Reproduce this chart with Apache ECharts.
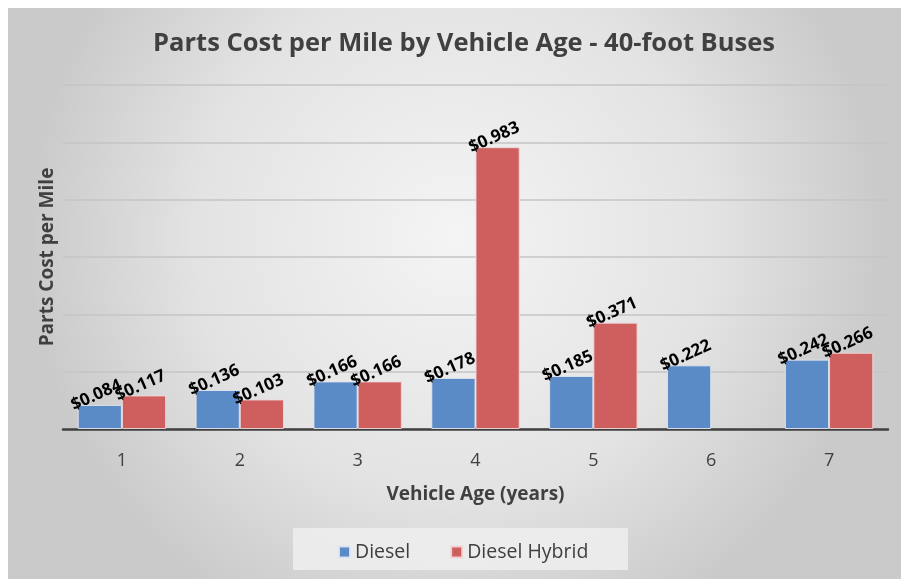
<!DOCTYPE html>
<html>
<head>
<meta charset="utf-8">
<script src="https://cdn.jsdelivr.net/npm/echarts@6/dist/echarts.min.js"></script>
<style>
  html, body { margin: 0; padding: 0; background: #fff; }
  #chart { width: 901px; height: 579px; }
</style>
</head>
<body>
<div id="chart"></div>
<script>
// data
const ages = ['1', '2', '3', '4', '5', '6', '7']
const diesel = [0.084, 0.136, 0.166, 0.178, 0.185, 0.222, 0.242]
const dieselHybrid = [0.117, 0.103, 0.166, 0.983, 0.371, null, 0.266]

const font = '"Open Sans", "Noto Sans", sans-serif'
const myChart = echarts.init(document.getElementById('chart'))

const barLabel = {
  show: true,
  position: 'top',
  rotate: 24,
  distance: 2,
  color: '#000',
  fontFamily: font,
  fontWeight: 'bold',
  fontSize: 17,
  formatter: p => (p.value == null ? '' : '$' + p.value.toFixed(3))
}

const option = {
  backgroundColor: '#fff',
  animation: false,
  graphic: [
    {
      type: 'rect',
      z: -10,
      silent: true,
      shape: { x: 8, y: 8, width: 893, height: 571 },
      style: {
        fill: {
          type: 'radial', x: 0.5, y: 0.4, r: 0.75,
          colorStops: [
            { offset: 0, color: '#f4f4f4' },
            { offset: 0.6, color: '#e3e3e3' },
            { offset: 1, color: '#cacaca' }
          ]
        }
      }
    },
    {
      type: 'rect',
      z: -5,
      silent: true,
      shape: { x: 293, y: 528, width: 335, height: 42 },
      style: { fill: 'rgba(238,238,238,0.85)' }
    }
  ],
  title: {
    text: 'Parts Cost per Mile by Vehicle Age - 40-foot Buses',
    left: 459,
    textAlign: 'center',
    top: 26,
    textStyle: {
      fontFamily: font,
      fontWeight: 'bold',
      fontSize: 25.5,
      color: '#404040'
    }
  },
  legend: {
    left: 333,
    top: 537,
    itemGap: 40,
    icon: 'rect',
    itemWidth: 11,
    itemHeight: 11,
    textStyle: { fontFamily: font, fontSize: 19.5, color: '#404040' },
    data: ['Diesel', 'Diesel Hybrid']
  },
  grid: { left: 63, right: 13, top: 85, bottom: 150 },
  xAxis: {
    type: 'category',
    data: ages,
    name: 'Vehicle Age (years)',
    nameLocation: 'middle',
    nameGap: 56,
    nameTextStyle: { fontFamily: font, fontWeight: 'bold', fontSize: 19, color: '#404040' },
    axisTick: { show: false },
    axisLine: { lineStyle: { color: '#404040', width: 2.5 } },
    axisLabel: { fontFamily: font, fontSize: 18, color: '#404040', margin: 23 }
  },
  yAxis: {
    type: 'value',
    min: 0,
    max: 1.2,
    interval: 0.2,
    name: 'Parts Cost per Mile',
    nameLocation: 'middle',
    nameGap: 6,
    nameTextStyle: { fontFamily: font, fontWeight: 'bold', fontSize: 19, color: '#404040' },
    axisLabel: { show: false },
    axisLine: { show: false },
    axisTick: { show: false },
    splitLine: { lineStyle: { color: '#c4c4c4', width: 1.5 } }
  },
  series: [
    {
      name: 'Diesel',
      type: 'bar',
      data: diesel,
      barGap: '0%',
      barCategoryGap: '25%',
      itemStyle: { color: '#5b8bc7', borderColor: 'rgba(225,230,240,0.9)', borderWidth: 1 },
      label: barLabel
    },
    {
      name: 'Diesel Hybrid',
      type: 'bar',
      data: dieselHybrid,
      itemStyle: { color: '#cf5f5f', borderColor: 'rgba(240,215,215,0.9)', borderWidth: 1 },
      label: barLabel
    }
  ]
}

myChart.setOption(option)
</script>
</body>
</html>
